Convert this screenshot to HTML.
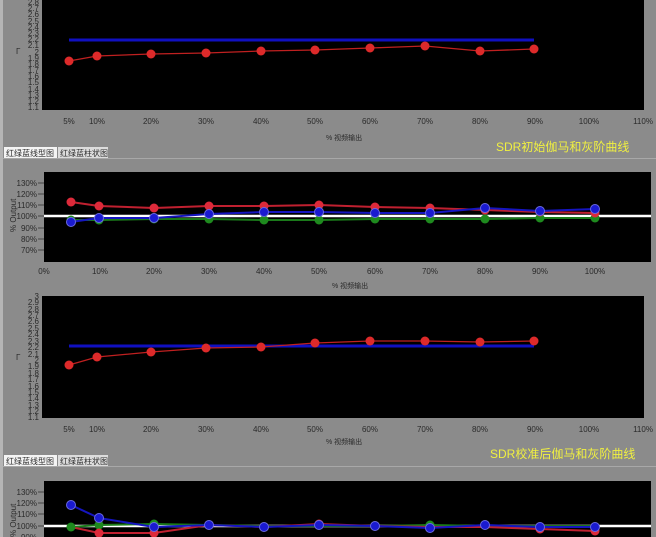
<!DOCTYPE html>
<html><head><meta charset="utf-8"><style>
html,body{margin:0;padding:0;background:#8b8b8b;width:656px;height:537px;overflow:hidden}
svg{display:block}
text{font-family:"Liberation Sans","Noto Sans CJK SC",sans-serif;fill:#2a2a2a}
</style></head><body>
<svg width="656" height="537" viewBox="0 0 656 537" xmlns="http://www.w3.org/2000/svg">
<rect width="656" height="537" fill="#8b8b8b"/>
<rect x="0" y="0" width="3" height="537" fill="#b5b5b5"/>
<!-- Chart 1 -->
<rect x="42" y="0" width="602" height="110" fill="#000"/>
<g font-size="8" text-anchor="end" transform="translate(39,0)">
<text y="5">2.8</text><text y="11">2.7</text><text y="17">2.6</text><text y="24">2.5</text><text y="30">2.4</text><text y="36">2.3</text><text y="42">2.2</text><text y="48">2.1</text><text y="55">2</text><text y="61">1.9</text><text y="67">1.8</text><text y="73">1.7</text><text y="79">1.6</text><text y="85">1.5</text><text y="92">1.4</text><text y="98">1.3</text><text y="104">1.2</text><text y="110">1.1</text>
</g>
<text x="16" y="54" font-size="8">Γ</text>
<line x1="69" y1="40" x2="534" y2="40" stroke="#1010c0" stroke-width="3"/>
<polyline fill="none" stroke="#c02020" stroke-width="1.3" points="69,61 97,56 151,54 206,53 261,51 315,50 370,48 425,46 480,51 534,49"/>
<g fill="#dd2a2a"><circle cx="69" cy="61" r="4.5"/><circle cx="97" cy="56" r="4.5"/><circle cx="151" cy="54" r="4.5"/><circle cx="206" cy="53" r="4.5"/><circle cx="261" cy="51" r="4.5"/><circle cx="315" cy="50" r="4.5"/><circle cx="370" cy="48" r="4.5"/><circle cx="425" cy="46" r="4.5"/><circle cx="480" cy="51" r="4.5"/><circle cx="534" cy="49" r="4.5"/></g>
<g font-size="8" text-anchor="middle" transform="translate(0,124)">
<text x="69">5%</text><text x="97">10%</text><text x="151">20%</text><text x="206">30%</text><text x="261">40%</text><text x="315">50%</text><text x="370">60%</text><text x="425">70%</text><text x="480">80%</text><text x="535">90%</text><text x="589">100%</text><text x="643">110%</text>
</g>
<text x="326" y="140" font-size="7">% 视频输出</text>
<text x="496" y="151" font-size="12" style="fill:#f0f040">SDR初始伽马和灰阶曲线</text>
<rect x="4" y="147" width="53" height="11" fill="#f4f4f4"/>
<rect x="58" y="147" width="50" height="11" fill="#dcdcdc"/>
<text x="6" y="156" font-size="8">红绿蓝线型图</text><text x="60" y="156" font-size="8">红绿蓝柱状图</text>
<line x1="3" y1="158.5" x2="656" y2="158.5" stroke="#a8a8a8"/>
<!-- Chart 2 -->
<rect x="44" y="172" width="607" height="90" fill="#000"/>
<g font-size="8" text-anchor="end" transform="translate(37,0)">
<text y="186">130%</text><text y="197">120%</text><text y="208">110%</text><text y="219">100%</text><text y="231">90%</text><text y="242">80%</text><text y="253">70%</text>
</g>
<g stroke="#444"><line x1="38" y1="183" x2="44" y2="183"/><line x1="38" y1="194" x2="44" y2="194"/><line x1="38" y1="205" x2="44" y2="205"/><line x1="38" y1="216" x2="44" y2="216"/><line x1="38" y1="228" x2="44" y2="228"/><line x1="38" y1="239" x2="44" y2="239"/><line x1="38" y1="250" x2="44" y2="250"/></g>
<text transform="translate(16,232) rotate(-90)" font-size="8">% Output</text>
<line x1="44" y1="216" x2="651" y2="216" stroke="#fff" stroke-width="2.5"/>
<polyline fill="none" stroke="#1a7a1a" stroke-width="2" points="71,220 99,220 154,219 209,219 264,220 319,220 375,219 430,219 485,219 540,218 595,218"/>
<polyline fill="none" stroke="#c02030" stroke-width="2" points="71,202 99,206 154,208 209,206 264,206 319,205 375,207 430,208 485,210 540,212 595,213"/>
<polyline fill="none" stroke="#1515c0" stroke-width="2" points="71,222 99,218 154,218 209,214 264,212 319,212 375,213 430,213 485,208 540,211 595,209"/>
<g fill="#1e8a1e"><circle cx="71" cy="220" r="4.5"/><circle cx="99" cy="220" r="4.5"/><circle cx="154" cy="219" r="4.5"/><circle cx="209" cy="219" r="4.5"/><circle cx="264" cy="220" r="4.5"/><circle cx="319" cy="220" r="4.5"/><circle cx="375" cy="219" r="4.5"/><circle cx="430" cy="219" r="4.5"/><circle cx="485" cy="219" r="4.5"/><circle cx="540" cy="218" r="4.5"/><circle cx="595" cy="218" r="4.5"/></g>
<g fill="#dd2a3a"><circle cx="71" cy="202" r="4.5"/><circle cx="99" cy="206" r="4.5"/><circle cx="154" cy="208" r="4.5"/><circle cx="209" cy="206" r="4.5"/><circle cx="264" cy="206" r="4.5"/><circle cx="319" cy="205" r="4.5"/><circle cx="375" cy="207" r="4.5"/><circle cx="430" cy="208" r="4.5"/><circle cx="485" cy="210" r="4.5"/><circle cx="540" cy="212" r="4.5"/><circle cx="595" cy="213" r="4.5"/></g>
<g fill="#1a1ad0" stroke="#6a6ae0" stroke-width="1"><circle cx="71" cy="222" r="4.5"/><circle cx="99" cy="218" r="4.5"/><circle cx="154" cy="218" r="4.5"/><circle cx="209" cy="214" r="4.5"/><circle cx="264" cy="212" r="4.5"/><circle cx="319" cy="212" r="4.5"/><circle cx="375" cy="213" r="4.5"/><circle cx="430" cy="213" r="4.5"/><circle cx="485" cy="208" r="4.5"/><circle cx="540" cy="211" r="4.5"/><circle cx="595" cy="209" r="4.5"/></g>
<g font-size="8" text-anchor="middle" transform="translate(0,274)">
<text x="44">0%</text><text x="100">10%</text><text x="154">20%</text><text x="209">30%</text><text x="264">40%</text><text x="319">50%</text><text x="375">60%</text><text x="430">70%</text><text x="485">80%</text><text x="540">90%</text><text x="595">100%</text>
</g>
<text x="332" y="288" font-size="7">% 视频输出</text>
<!-- Chart 3 -->
<rect x="42" y="296" width="602" height="122" fill="#000"/>
<g font-size="8" text-anchor="end" transform="translate(39,0)">
<text y="299">3</text><text y="305">2.9</text><text y="312">2.8</text><text y="318">2.7</text><text y="324">2.6</text><text y="331">2.5</text><text y="337">2.4</text><text y="344">2.3</text><text y="350">2.2</text><text y="357">2.1</text><text y="363">2</text><text y="369">1.9</text><text y="376">1.8</text><text y="382">1.7</text><text y="389">1.6</text><text y="395">1.5</text><text y="401">1.4</text><text y="408">1.3</text><text y="414">1.2</text><text y="420">1.1</text>
</g>
<text x="16" y="360" font-size="8">Γ</text>
<line x1="69" y1="346" x2="534" y2="346" stroke="#1010c0" stroke-width="3"/>
<polyline fill="none" stroke="#c02020" stroke-width="1.3" points="69,365 97,357 151,352 206,348 261,347 315,343 370,341 425,341 480,342 534,341"/>
<g fill="#dd2a2a"><circle cx="69" cy="365" r="4.5"/><circle cx="97" cy="357" r="4.5"/><circle cx="151" cy="352" r="4.5"/><circle cx="206" cy="348" r="4.5"/><circle cx="261" cy="347" r="4.5"/><circle cx="315" cy="343" r="4.5"/><circle cx="370" cy="341" r="4.5"/><circle cx="425" cy="341" r="4.5"/><circle cx="480" cy="342" r="4.5"/><circle cx="534" cy="341" r="4.5"/></g>
<g font-size="8" text-anchor="middle" transform="translate(0,432)">
<text x="69">5%</text><text x="97">10%</text><text x="151">20%</text><text x="206">30%</text><text x="261">40%</text><text x="315">50%</text><text x="370">60%</text><text x="425">70%</text><text x="480">80%</text><text x="535">90%</text><text x="589">100%</text><text x="643">110%</text>
</g>
<text x="326" y="444" font-size="7">% 视频输出</text>
<text x="490" y="458" font-size="12" style="fill:#f0f040">SDR校准后伽马和灰阶曲线</text>
<rect x="4" y="455" width="53" height="11" fill="#f4f4f4"/>
<rect x="58" y="455" width="50" height="11" fill="#dcdcdc"/>
<text x="6" y="464" font-size="8">红绿蓝线型图</text><text x="60" y="464" font-size="8">红绿蓝柱状图</text>
<line x1="3" y1="466.5" x2="656" y2="466.5" stroke="#a8a8a8"/>
<!-- Chart 4 -->
<rect x="44" y="481" width="607" height="56" fill="#000"/>
<g font-size="8" text-anchor="end" transform="translate(37,0)">
<text y="495">130%</text><text y="506">120%</text><text y="517">110%</text><text y="529">100%</text><text y="540">90%</text>
</g>
<g stroke="#444"><line x1="38" y1="492" x2="44" y2="492"/><line x1="38" y1="503" x2="44" y2="503"/><line x1="38" y1="514" x2="44" y2="514"/><line x1="38" y1="526" x2="44" y2="526"/></g>
<text transform="translate(16,537) rotate(-90)" font-size="8">% Output</text>
<line x1="44" y1="526" x2="651" y2="526" stroke="#fff" stroke-width="2.5"/>
<polyline fill="none" stroke="#1a7a1a" stroke-width="2" points="71,527 99,525 154,524 209,525 264,526 319,526 375,526 430,525 485,526 540,526 595,526"/>
<polyline fill="none" stroke="#c02030" stroke-width="2" points="71,527 99,533 154,533 209,525 264,527 319,524 375,526 430,527 485,527 540,529 595,531"/>
<polyline fill="none" stroke="#1515c0" stroke-width="2" points="71,505 99,518 154,527 209,525 264,527 319,525 375,526 430,528 485,525 540,527 595,527"/>
<g fill="#1e8a1e"><circle cx="71" cy="527" r="4.5"/><circle cx="99" cy="525" r="4.5"/><circle cx="154" cy="524" r="4.5"/><circle cx="430" cy="525" r="4.5"/></g>
<g fill="#dd2a3a"><circle cx="99" cy="533" r="4.5"/><circle cx="154" cy="533" r="4.5"/><circle cx="319" cy="524" r="4.5"/><circle cx="540" cy="529" r="4.5"/><circle cx="595" cy="531" r="4.5"/></g>
<g fill="#1a1ad0" stroke="#6a6ae0" stroke-width="1"><circle cx="71" cy="505" r="4.5"/><circle cx="99" cy="518" r="4.5"/><circle cx="154" cy="527" r="4.5"/><circle cx="209" cy="525" r="4.5"/><circle cx="264" cy="527" r="4.5"/><circle cx="319" cy="525" r="4.5"/><circle cx="375" cy="526" r="4.5"/><circle cx="430" cy="528" r="4.5"/><circle cx="485" cy="525" r="4.5"/><circle cx="540" cy="527" r="4.5"/><circle cx="595" cy="527" r="4.5"/></g>
</svg>
</body></html>
